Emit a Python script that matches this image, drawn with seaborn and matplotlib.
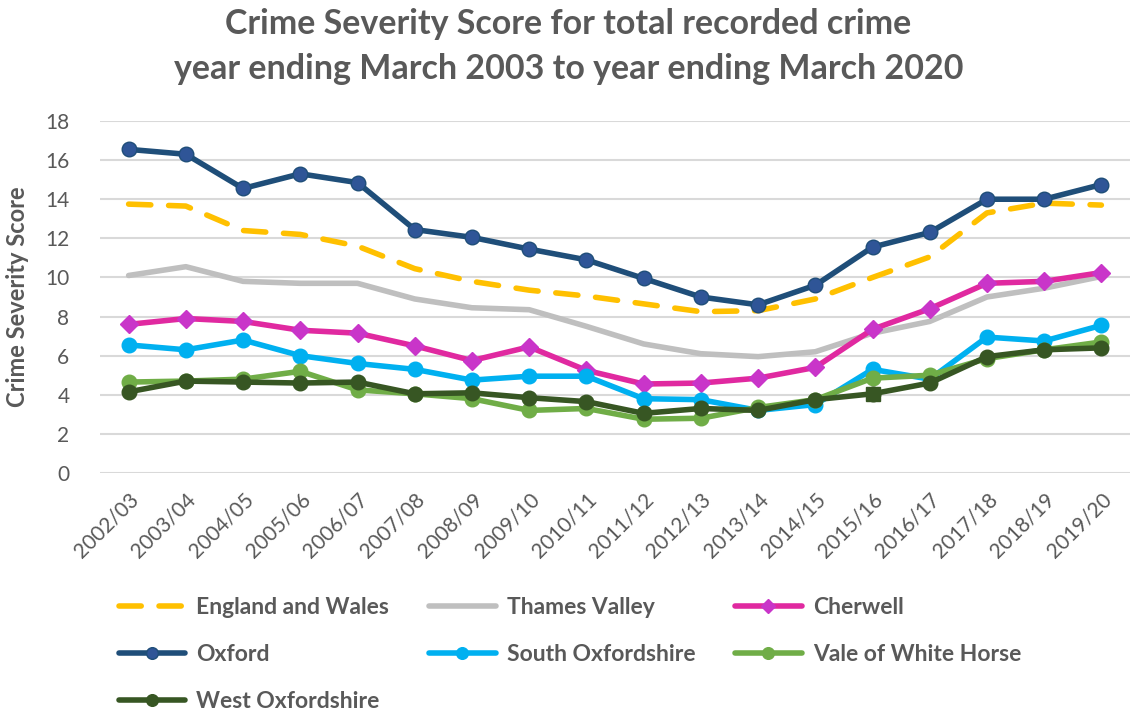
import matplotlib
matplotlib.use("Agg")
import matplotlib.pyplot as plt
import seaborn as sns
import pandas as pd

years = ['2002/03', '2003/04', '2004/05', '2005/06', '2006/07', '2007/08', '2008/09',
         '2009/10', '2010/11', '2011/12', '2012/13', '2013/14', '2014/15', '2015/16',
         '2016/17', '2017/18', '2018/19', '2019/20']

england_wales = [13.75, 13.65, 12.4, 12.2, 11.6, 10.45, 9.8, 9.35, 9.05, 8.65, 8.25, 8.3, 8.9, 10.0, 11.05, 13.3, 13.8, 13.7]
thames_valley = [10.1, 10.55, 9.8, 9.7, 9.7, 8.9, 8.45, 8.35, 7.5, 6.6, 6.1, 5.95, 6.2, 7.15, 7.75, 9.0, 9.45, 10.05]
cherwell = [7.6, 7.9, 7.75, 7.3, 7.15, 6.5, 5.75, 6.45, 5.25, 4.55, 4.6, 4.85, 5.4, 7.35, 8.4, 9.7, 9.8, 10.25]
oxford = [16.55, 16.3, 14.55, 15.3, 14.85, 12.45, 12.05, 11.45, 10.9, 9.95, 9.0, 8.6, 9.6, 11.55, 12.3, 14.0, 14.0, 14.75]
south_oxon = [6.55, 6.3, 6.8, 6.0, 5.6, 5.3, 4.75, 4.95, 4.95, 3.8, 3.75, 3.2, 3.5, 5.3, 4.8, 6.95, 6.75, 7.55]
vale_wh = [4.65, 4.7, 4.8, 5.2, 4.25, 4.05, 3.8, 3.2, 3.3, 2.75, 2.8, 3.35, 3.75, 4.85, 5.0, 5.85, 6.3, 6.7]
west_oxon = [4.15, 4.7, 4.65, 4.6, 4.65, 4.05, 4.1, 3.85, 3.65, 3.05, 3.3, 3.2, 3.75, 4.05, 4.6, 5.95, 6.3, 6.4]

series_names = ['England and Wales', 'Thames Valley', 'Cherwell', 'Oxford',
                'South Oxfordshire', 'Vale of White Horse', 'West Oxfordshire']
series_values = [england_wales, thames_valley, cherwell, oxford, south_oxon, vale_wh, west_oxon]

sns.set_theme(style="white")
plt.rcParams['font.family'] = ['Lato', 'DejaVu Sans']

TXT = '#595959'
fig = plt.figure(figsize=(11.37, 7.15), dpi=100)
ax = fig.add_axes([100 / 1137, 1 - 473 / 715, 1030 / 1137, 352 / 715])

x = list(range(len(years)))
LW = 4.0
styles = {
    'England and Wales': dict(color='#FFC000', marker=None, dashes=(4.0, 3.2)),
    'Thames Valley': dict(color='#BFBFBF', marker=None),
    'Cherwell': dict(color='#E029A0', marker='D', mfc='#C935C9', mec='#C935C9', ms=9),
    'Oxford': dict(color='#1F4E79', marker='o', mfc='#2F5597', mec='#1F4E79', ms=10.5),
    'South Oxfordshire': dict(color='#00B0F0', marker='o', mfc='#00B0F0', mec='#00B0F0', ms=10.5),
    'Vale of White Horse': dict(color='#70AD47', marker='o', mfc='#70AD47', mec='#70AD47', ms=10.5),
    'West Oxfordshire': dict(color='#375623', marker='o', mfc='#375623', mec='#375623', ms=10.5),
}

handles = {}
for i, (name, vals) in enumerate(zip(series_names, series_values)):
    df = pd.DataFrame({'x': x, 'y': vals})
    st = styles[name]
    kw = dict(color=st['color'], linewidth=LW, zorder=3 + i, solid_capstyle='round')
    if st.get('marker'):
        kw.update(marker=st['marker'], markerfacecolor=st['mfc'], markeredgecolor=st['mec'],
                  markersize=st['ms'], markeredgewidth=1)
    sns.lineplot(data=df, x='x', y='y', ax=ax, legend=False, **kw)
    line = ax.lines[-1]
    if 'dashes' in st:
        line.set_dashes(st['dashes'])
        line.set_dash_capstyle('round')
    handles[name] = line

# West Oxfordshire 2015/16 point drawn with a square marker in the original
idx = years.index('2015/16')
ax.plot([x[idx]], [west_oxon[idx]], marker='s', ms=10.5, color='#375623', zorder=20, linestyle='none')

ax.set_xlim(-0.5, len(years) - 0.5)
ax.set_ylim(0, 18)
ax.set_yticks(range(0, 19, 2))
ax.set_xticks(x)
ax.set_xticklabels(years, rotation=45, ha='right', rotation_mode='anchor')
ax.tick_params(axis='x', colors=TXT, labelsize=15, length=0, pad=12)
ax.tick_params(axis='y', colors=TXT, labelsize=15, length=0, pad=22)
for lab in ax.get_xticklabels() + ax.get_yticklabels():
    lab.set_color(TXT)
ax.grid(axis='y', color='#D9D9D9', linewidth=1.5)
ax.set_axisbelow(True)
for s in ax.spines.values():
    s.set_visible(False)
ax.set_xlabel('')
ax.set_ylabel('Crime Severity Score', fontsize=17, fontweight='bold', color=TXT, labelpad=12)

fig.suptitle('Crime Severity Score for total recorded crime\nyear ending March 2003 to year ending March 2020',
             fontsize=24.5, fontweight='bold', color=TXT, y=0.989, linespacing=1.5)

# legend filled row by row (3 columns)
order = ['England and Wales', 'Oxford', 'West Oxfordshire',
         'Thames Valley', 'South Oxfordshire',
         'Cherwell', 'Vale of White Horse']
leg = fig.legend(handles=[handles[n] for n in order], labels=order, ncol=3, loc='upper left',
                 bbox_to_anchor=(98 / 1137, 1 - 576 / 715), frameon=False,
                 prop={'weight': 'bold', 'size': 16.5}, labelcolor=TXT, markerscale=0.8,
                 handlelength=2.9, handletextpad=0.48, columnspacing=1.75, labelspacing=1.14)

fig.savefig('out.png', dpi=100)
